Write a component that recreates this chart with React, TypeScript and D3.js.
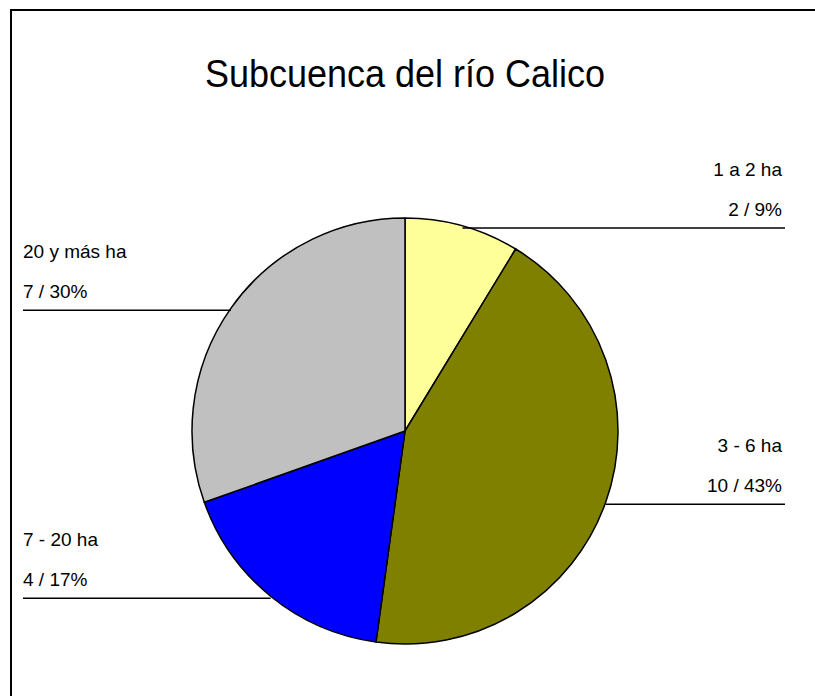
import React from "react";
import * as d3 from "d3";

const categories = ["1 a 2 ha", "3 - 6 ha", "7 - 20 ha", "20 y más ha"];
const values = [2, 10, 4, 7];
const percents = ["9%", "43%", "17%", "30%"];
const colors = ["#FFFF99", "#808000", "#0000FF", "#C0C0C0"];
const title = "Subcuenca del río Calico";

const W = 815;
const H = 696;
const cx = 405;
const cy = 431;
const R = 213;
const font = "Arial, 'Liberation Sans', sans-serif";

export default function App() {
  const pie = d3
    .pie<number>()
    .sort(null)
    .value((d) => d);
  const arcs = pie(values);
  const arcGen = d3.arc<d3.PieArcDatum<number>>().innerRadius(0).outerRadius(R);

  return (
    <svg
      width={W}
      height={H}
      style={{ position: "absolute", left: 0, top: 0, background: "#fff" }}
    >
      <rect x={11} y={10} width={W + 20} height={H + 20} fill="#fff" stroke="#000" strokeWidth={2} />
      <text
        x={405}
        y={87}
        textAnchor="middle"
        fontFamily={font}
        fontSize={38}
        textLength={400}
        lengthAdjust="spacingAndGlyphs"
        fill="#000"
      >
        {title}
      </text>
      <g transform={`translate(${cx},${cy})`}>
        {arcs.map((a, i) => (
          <path key={i} d={arcGen(a) || ""} fill={colors[i]} stroke="#000" strokeWidth={1.5} strokeLinejoin="round" />
        ))}
      </g>
      {arcs.map((a, i) => {
        const mid = (a.startAngle + a.endAngle) / 2;
        const px = cx + R * Math.sin(mid);
        const py = cy - R * Math.cos(mid);
        const ly = py + 2;
        const right = Math.sin(mid) > 0;
        const tx = right ? 782 : 23;
        const x2 = right ? 785 : 23;
        return (
          <g key={"l" + i}>
            <line x1={px} y1={ly} x2={x2} y2={ly} stroke="#000" strokeWidth={1.5} />
            <text x={tx} y={ly - 52} textAnchor={right ? "end" : "start"} fontFamily={font} fontSize={19} fill="#000">
              {categories[i]}
            </text>
            <text x={tx} y={ly - 12} textAnchor={right ? "end" : "start"} fontFamily={font} fontSize={19} fill="#000">
              {`${values[i]} / ${percents[i]}`}
            </text>
          </g>
        );
      })}
    </svg>
  );
}
